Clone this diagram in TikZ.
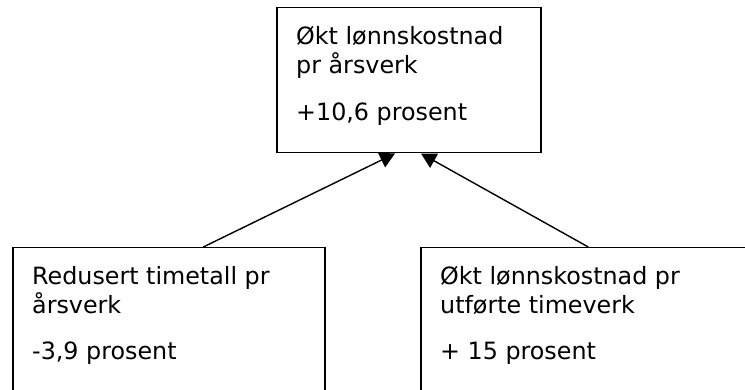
\documentclass[tikz,border=0pt]{standalone}
\usepackage{fontspec}
\setmainfont{DejaVu Sans}
\usetikzlibrary{arrows.meta,backgrounds}
\begin{document}
\begin{tikzpicture}[x=1pt,y=-1pt,
  box/.style={draw, line width=1.5pt, fill=white, inner sep=0pt, anchor=north west},
  txt/.style={anchor=base west, inner sep=0pt, font=\fontsize{23.8}{29}\selectfont},
  conn/.style={line width=1.4pt, -{Triangle[length=15pt,width=16pt]}}]
\useasboundingbox (0,0) rectangle (745,390);
\clip (0,0) rectangle (745,390);
\node[box, minimum width=264pt, minimum height=145pt] (top) at (276,7) {};
\node[box, minimum width=312pt, minimum height=170pt] (left) at (12,247) {};
\node[box, minimum width=340pt, minimum height=170pt] (right) at (420,247) {};
\path (left.north west) ++(191.3,0) coordinate (ls);
\path (right.north west) ++(168.3,0) coordinate (rs);
\path (top.south west) ++(119,0) coordinate (lt);
\path (top.south west) ++(145,0) coordinate (rt);
\begin{pgfonlayer}{background}
\fill[white] (0,0) rectangle (745,390);
\draw[conn] (ls) -- (lt);
\draw[conn] (rs) -- (rt);
\end{pgfonlayer}
\node[txt] (t1) at (296,45) {Økt lønnskostnad};
\node[txt] (t2) at (296,74) {pr årsverk};
\node[txt] (t3) at (296,120.5) {+10,6 prosent};
\node[txt] (l1) at (32,285) {Redusert timetall pr};
\node[txt] (l2) at (32,314) {årsverk};
\node[txt] (l3) at (32,359.5) {-3,9 prosent};
\node[txt] (r1) at (440,285) {Økt lønnskostnad pr};
\node[txt] (r2) at (440,314) {utførte timeverk};
\node[txt] (r3) at (440,359.5) {+ 15 prosent};
\end{tikzpicture}
\end{document}
